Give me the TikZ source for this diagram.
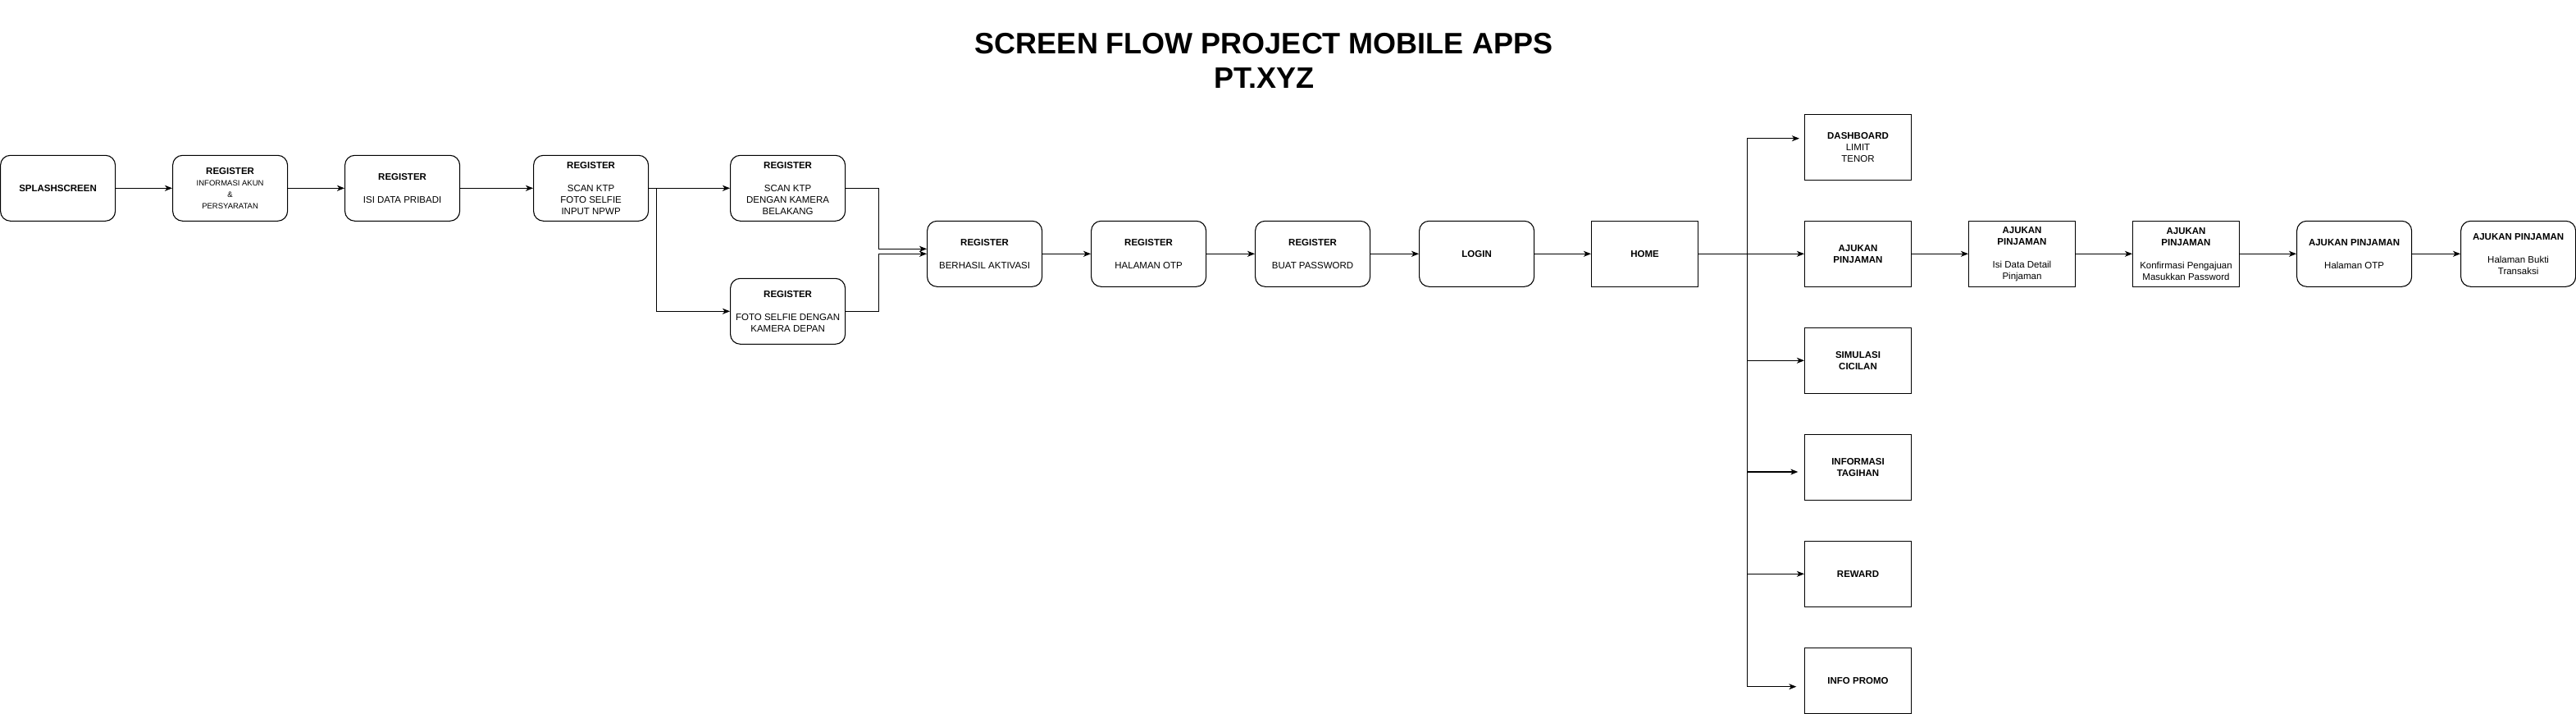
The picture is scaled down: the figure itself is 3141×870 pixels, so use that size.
\documentclass[tikz,border=0pt]{standalone}
\usepackage{fontspec}
\setmainfont{Liberation Sans}
\usetikzlibrary{arrows.meta}
\begin{document}
\begin{tikzpicture}[x=1pt,y=-1pt,
  box/.style={draw, line width=1.1pt, minimum width=140pt, minimum height=80pt, inner sep=1pt, align=center, font=\fontsize{11.5}{14}\selectfont},
  rbox/.style={box, rounded corners=12pt},
  sbox/.style={box, minimum width=130pt},
  arr/.style={line width=1.1pt, -{Stealth[length=9pt,width=7pt,inset=2.5pt]}},
  ttl/.style={font=\bfseries\fontsize{36}{42}\selectfont, anchor=base, inner sep=0pt}]
\useasboundingbox (0,0) rectangle (3141,870);
\fill[white] (0,0) rectangle (3141,870);
% title
\node[ttl] (t1) at (1541,65) {SCREEN FLOW PROJECT MOBILE APPS};
\node[ttl] (t2) at (1541,107) {PT.XYZ};
% row 1
\node[rbox] (splash) at (70.6,229.3) {\textbf{SPLASHSCREEN}};
\node[rbox] (reg2) at (280.6,229.3) {\textbf{REGISTER}\\{\fontsize{9.5}{14}\selectfont INFORMASI AKUN}\\{\fontsize{9.5}{14}\selectfont \&}\\{\fontsize{9.5}{14}\selectfont PERSYARATAN}};
\node[rbox] (reg3) at (490.6,229.3) {\textbf{REGISTER}\\[14pt]ISI DATA PRIBADI};
\node[rbox] (reg4) at (720.6,229.3) {\textbf{REGISTER}\\[14pt]SCAN KTP\\FOTO SELFIE\\INPUT NPWP};
\node[rbox] (scan) at (960.6,229.3) {\textbf{REGISTER}\\[14pt]SCAN KTP\\DENGAN KAMERA\\BELAKANG};
\node[rbox] (foto) at (960.6,379.3) {\textbf{REGISTER}\\[14pt]FOTO SELFIE DENGAN\\KAMERA DEPAN};
% row 2
\node[rbox] (berhasil) at (1200.6,309.3) {\textbf{REGISTER}\\[14pt]BERHASIL AKTIVASI};
\node[rbox] (otp) at (1400.6,309.3) {\textbf{REGISTER}\\[14pt]HALAMAN OTP};
\node[rbox] (buat) at (1600.6,309.3) {\textbf{REGISTER}\\[14pt]BUAT PASSWORD};
\node[rbox] (login) at (1800.6,309.3) {\textbf{LOGIN}};
\node[sbox] (home) at (2005.5,309.3) {\textbf{HOME}};
% home menu column
\node[sbox] (dash) at (2265.5,179.3) {\textbf{DASHBOARD}\\LIMIT\\TENOR};
\node[sbox] (aj1) at (2265.5,309.3) {\textbf{AJUKAN}\\\textbf{PINJAMAN}};
\node[sbox] (sim) at (2265.5,439.3) {\textbf{SIMULASI}\\\textbf{CICILAN}};
\node[sbox] (tag) at (2265.5,569.3) {\textbf{INFORMASI}\\\textbf{TAGIHAN}};
\node[sbox] (rew) at (2265.5,699.3) {\textbf{REWARD}};
\node[sbox] (promo) at (2265.5,829.3) {\textbf{INFO PROMO}};
% ajukan flow
\node[sbox] (aj2) at (2465.5,309.3) {\textbf{AJUKAN}\\\textbf{PINJAMAN}\\[14pt]Isi Data Detail\\Pinjaman};
\node[sbox] (aj3) at (2665.5,309.3) {\textbf{AJUKAN}\\\textbf{PINJAMAN}\\[14pt]Konfirmasi Pengajuan\\Masukkan Password};
\node[rbox] (aj4) at (2870.6,309.3) {\textbf{AJUKAN PINJAMAN}\\[14pt]Halaman OTP};
\node[rbox] (aj5) at (3070.6,309.3) {\textbf{AJUKAN PINJAMAN}\\[14pt]Halaman Bukti\\Transaksi};
% connectors row 1
\draw[arr] (splash) -- (reg2);
\draw[arr] (reg2) -- (reg3);
\draw[arr] (reg3) -- (reg4);
\draw[arr] (reg4) -- (scan);
\draw[arr] (reg4.east) -- ++(9.6,0) |- (foto.west);
\draw[arr] (scan.east) -- ++(40.1,0) |- ([yshift=6pt]berhasil.west);
\draw[arr] (foto.east) -- ++(40.1,0) |- (berhasil.west);
% connectors row 2
\draw[arr] (berhasil) -- (otp);
\draw[arr] (otp) -- (buat);
\draw[arr] (buat) -- (login);
\draw[arr] (login) -- (home);
\draw[arr] (home) -- (aj1);
\coordinate (hj) at (2130.3,309.3);
\draw[arr] (hj) |- ([xshift=-6pt,yshift=10.6pt]dash.west);
\draw[arr] (hj) |- (sim.west);
\draw[arr] (hj) |- ([xshift=-7.6pt,yshift=-5.7pt]tag.west);
\draw[arr] (hj) |- (rew.west);
\draw[arr] (hj) |- ([xshift=-9.6pt,yshift=-7.4pt]promo.west);
\draw[arr] (aj1) -- (aj2);
\draw[arr] (aj2) -- (aj3);
\draw[arr] (aj3) -- (aj4);
\draw[arr] (aj4) -- (aj5);
\end{tikzpicture}
\end{document}
